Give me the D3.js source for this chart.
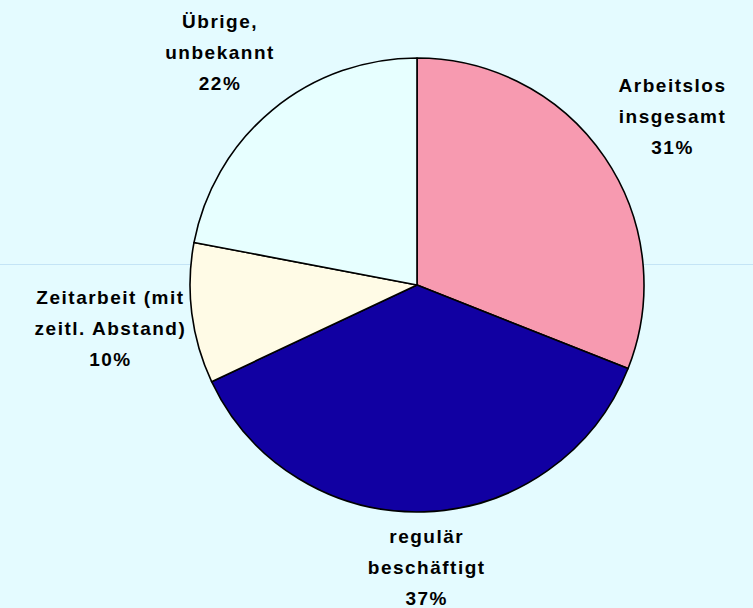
<!DOCTYPE html>
<html>
<head>
<meta charset="utf-8">
<script src="https://cdnjs.cloudflare.com/ajax/libs/d3/7.8.5/d3.min.js"></script>
<style>
  html, body { margin: 0; padding: 0; background: #e4fbff; }
  #chart { width: 753px; height: 608px; }
  text { font-family: Arial, "Liberation Sans", sans-serif; font-weight: bold; font-size: 19px; letter-spacing: 1.5px; fill: #000; }
</style>
</head>
<body>
<div id="chart"></div>
<script>
// slices, clockwise from 12 o'clock
var labels = [["Arbeitslos", "insgesamt"], ["regulär", "beschäftigt"], ["Zeitarbeit (mit", "zeitl. Abstand)"], ["Übrige,", "unbekannt"]];
var values = [31, 37, 10, 22];
var colors = ["#f79ab0", "#1100a2", "#fffbe6", "#e7ffff"];

var width = 753, height = 608;
var cx = 417, cy = 285, radius = 227;

var svg = d3.select("#chart").append("svg")
    .attr("width", width)
    .attr("height", height);

// faint plot line behind the pie
svg.append("line")
    .attr("x1", 0).attr("x2", width)
    .attr("y1", 264.5).attr("y2", 264.5)
    .attr("stroke", "#c4e4f6")
    .attr("stroke-width", 1);

var data = values.map(function(v, i) { return { label: labels[i], value: v, color: colors[i] }; });

var pie = d3.pie()
    .sort(null)
    .value(function(d) { return d.value; });

var arc = d3.arc()
    .innerRadius(0)
    .outerRadius(radius);

var g = svg.append("g")
    .attr("transform", "translate(" + cx + "," + cy + ")");

var arcs = pie(data);

g.selectAll("path")
    .data(arcs)
    .enter().append("path")
      .attr("d", arc)
      .attr("fill", function(d) { return d.data.color; })
      .attr("stroke", "#000")
      .attr("stroke-width", 1.6)
      .attr("stroke-linejoin", "round");

var lineH = 31;
var labelR = 309;

var lbl = g.selectAll("g.lbl")
    .data(arcs)
    .enter().append("g")
      .attr("class", "lbl");

lbl.each(function(d) {
  var el = d3.select(this);
  var lines = d.data.label.concat([Math.round(d.data.value) + "%"]);
  var half = (lines.length - 1) / 2 * lineH;
  var t = el.append("text").attr("text-anchor", "middle");
  lines.forEach(function(s, i) {
    t.append("tspan")
      .attr("x", 0)
      .attr("y", i * lineH - half)
      .attr("dy", "0.35em")
      .text(s);
  });
  var a = (d.startAngle + d.endAngle) / 2;
  var x = Math.sin(a) * labelR, y = -Math.cos(a) * labelR + 5;
  // keep the block inside the chart area, like the original does
  var maxY = height - 10 - cy - half;
  if (y > maxY) y = maxY;
  el.attr("transform", "translate(" + x + "," + y + ")");
});
</script>
</body>
</html>
